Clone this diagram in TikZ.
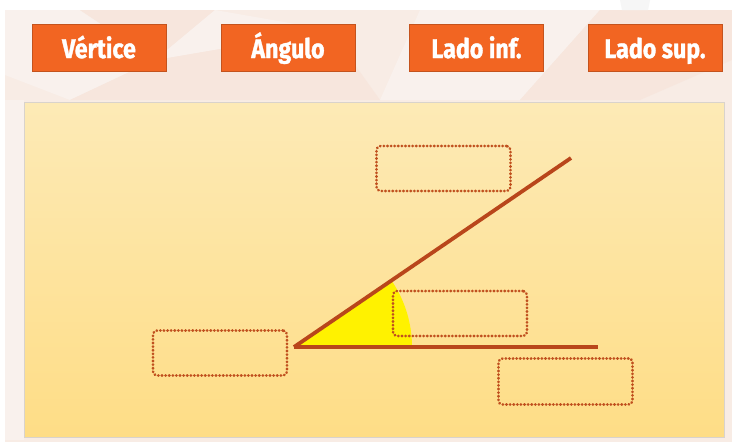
\documentclass[tikz,border=0pt]{standalone}
\usepackage{fontspec}
\setmainfont{Fira Sans}
\newfontfamily\btnfont[FakeStretch=0.86, BoldFeatures={FakeBold=1.2}]{Fira Sans}
\definecolor{bgpeach}{HTML}{F8ECE5}
\definecolor{bgtileA}{HTML}{F7E6DD}
\definecolor{bgtileB}{HTML}{F9F1ED}
\definecolor{btnfill}{HTML}{F26522}
\definecolor{btnedge}{HTML}{C4531D}
\definecolor{paneltop}{HTML}{FDEAB6}
\definecolor{panelbot}{HTML}{FEDD86}
\definecolor{paneledge}{HTML}{D9D3CC}
\definecolor{raycol}{HTML}{B9461B}
\definecolor{dotcol}{HTML}{C0501E}
\tikzset{
  btn/.style={draw=btnedge, fill=btnfill, line width=1pt, minimum width=134pt, minimum height=47pt,
    inner sep=0pt, text=white, font=\btnfont\bfseries\fontsize{27}{27}\selectfont,
    text height=19.5pt, text depth=0pt},
  dbox/.style={draw=dotcol, line width=2.6pt, dash pattern=on 0.5pt off 3.1pt, line cap=round,
    rounded corners=4pt, minimum width=134pt, minimum height=45pt, inner sep=0pt},
  ray/.style={draw=raycol, line width=3.8pt}
}
\begin{document}
\begin{tikzpicture}[x=1pt,y=-1pt]
\useasboundingbox (0,0) rectangle (732,442);
\fill[white] (0,0) rectangle (732,442);
% background
\fill[bgpeach] (5,10) rectangle (732,442);
\fill[bgtileB] (5,10) -- (80,10) -- (155,60) -- (70,100) -- (5,75) -- cycle;
\fill[bgtileA] (80,10) -- (215,10) -- (155,60) -- cycle;
\fill[bgtileA] (155,60) -- (330,30) -- (380,100) -- (70,100) -- cycle;
\fill[bgtileB] (215,10) -- (330,30) -- (155,60) -- cycle;
\fill[bgtileB] (420,10) -- (600,10) -- (520,100) -- (380,100) -- cycle;
\fill[bgtileA] (600,10) -- (732,10) -- (732,60) -- (640,100) -- (520,100) -- cycle;
\fill[bgtileB] (5,100) -- (24,100) -- (24,440) -- (5,440) -- cycle;
\fill[gray!7] (620,0) -- (650,0) -- (648,10) -- (622,10) -- cycle;
% panel
\shade[top color=paneltop, bottom color=panelbot] (24,102) rectangle (724,437);
\draw[paneledge, line width=1pt] (24,102) rectangle (724,437);
% buttons
\node[btn] (vert) at (99,48.3) {Vértice};
\node[btn] (ang) at (288,48.3) {Ángulo};
\node[btn] (linf) at (476.5,48.3) {Lado inf.};
\node[btn] (lsup) at (655,48.3) {Lado sup.};
% angle
\coordinate (V) at (294,347);
\coordinate (E) at (598,347);
\coordinate (U) at (571,158);
\begin{scope}
  \clip (V) -- (E) -- (U) -- cycle;
  \fill[yellow] (V) circle[radius=118pt];
\end{scope}
\draw[ray] (V) -- (U);
\draw[ray] (V) -- (E);
% dotted boxes
\node[dbox] (b1) at (443.5,168.5) {};
\node[dbox] (b2) at (460,313.5) {};
\node[dbox] (b3) at (220,353) {};
\node[dbox, minimum height=46pt] (b4) at (565.5,381.5) {};
\end{tikzpicture}
\end{document}
